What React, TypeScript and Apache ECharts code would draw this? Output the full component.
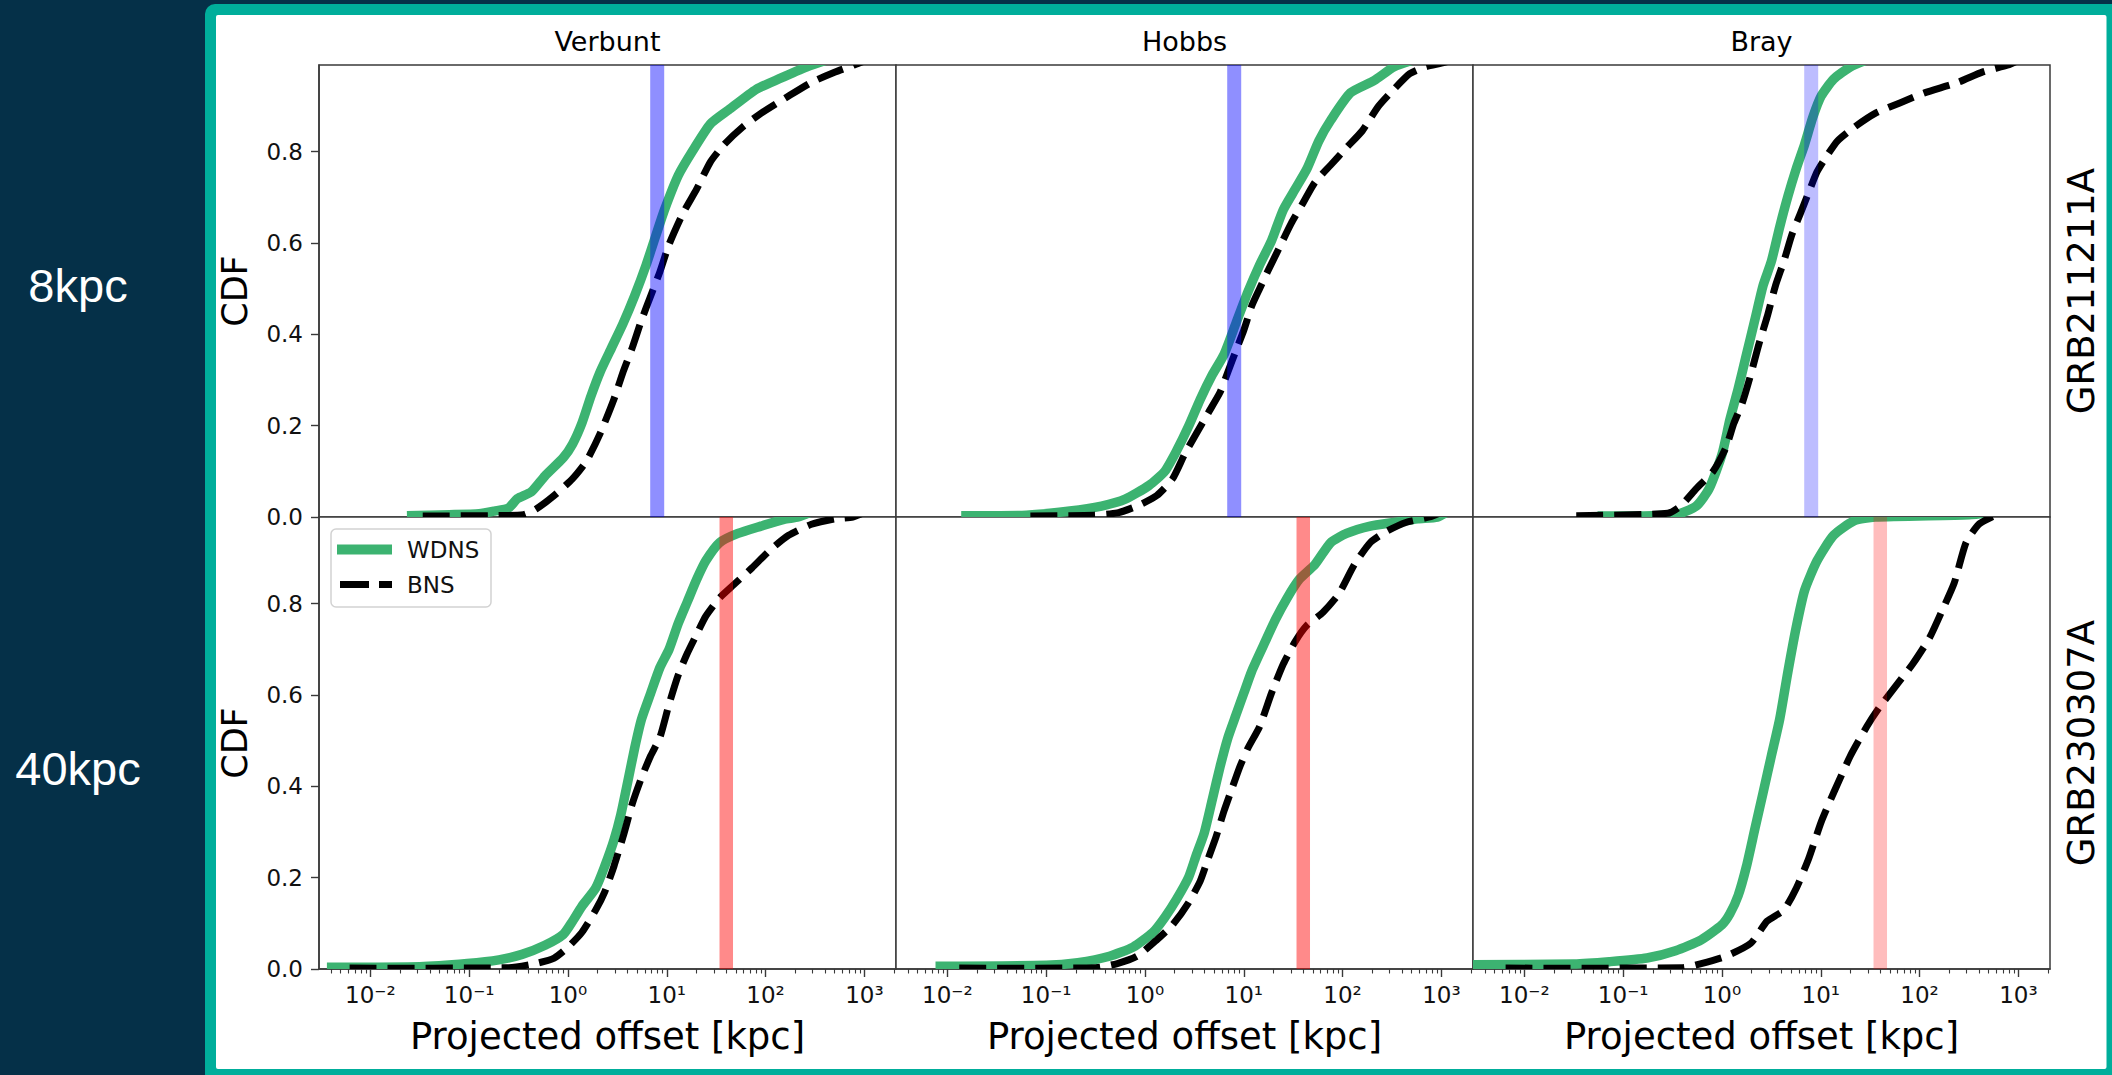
import { useEffect, useRef } from 'react';
import * as echarts from 'echarts';

// ---------- labels ----------
const columnTitles = ['Verbunt', 'Hobbs', 'Bray'];
const rowEvents = ['GRB211211A', 'GRB230307A'];
const rowOffsetLabels = ['8kpc', '40kpc'];
const observedOffsetKpc = [8, 40];
const seriesNames = ['WDNS', 'BNS'];
const xAxisTitle = 'Projected offset [kpc]';
const yAxisTitle = 'CDF';
const xTickExponents = [-2, -1, 0, 1, 2, 3];
const xTickLabels = ['10⁻²', '10⁻¹', '10⁰', '10¹', '10²', '10³'];
const minorTickMultipliers = [2, 3, 4, 5, 6, 7, 8, 9];
const yTickValues = [0, 0.2, 0.4, 0.6, 0.8];
const yTickLabels = ['0.0', '0.2', '0.4', '0.6', '0.8'];

// ---------- CDF curves: [log10(projected offset / kpc), CDF] ----------
const verbunt211211aWdns = [
  [-1.63, 0.003], [-1.2, 0.005], [-0.9, 0.007], [-0.744, 0.013], [-0.6, 0.02], [-0.512, 0.04],
  [-0.372, 0.055], [-0.233, 0.09], [-0.047, 0.13], [0.047, 0.16], [0.14, 0.205], [0.233, 0.265],
  [0.326, 0.318], [0.442, 0.371], [0.558, 0.424], [0.674, 0.484], [0.791, 0.552], [0.884, 0.613],
  [0.977, 0.673], [1.116, 0.748], [1.256, 0.8], [1.442, 0.861], [1.628, 0.892], [1.907, 0.937],
  [2.14, 0.96], [2.419, 0.986], [2.605, 1.0],
];
const verbunt211211aBns = [
  [-1.47, 0.002], [-0.8, 0.003], [-0.45, 0.005], [-0.326, 0.017], [-0.14, 0.047], [0.047, 0.084],
  [0.186, 0.122], [0.326, 0.183], [0.465, 0.258], [0.558, 0.318], [0.651, 0.371], [0.744, 0.431],
  [0.837, 0.484], [0.93, 0.537], [1.023, 0.597], [1.163, 0.665], [1.302, 0.718], [1.442, 0.778],
  [1.581, 0.816], [1.767, 0.854], [1.953, 0.884], [2.233, 0.922], [2.465, 0.952], [2.698, 0.974],
  [2.884, 0.989], [2.977, 0.997], [3.05, 1.0],
];
const hobbs211211aWdns = [
  [-1.86, 0.003], [-1.2, 0.004], [-0.76, 0.013], [-0.44, 0.024], [-0.2, 0.039], [0.04, 0.069],
  [0.2, 0.1], [0.32, 0.145], [0.44, 0.198], [0.56, 0.258], [0.68, 0.311], [0.8, 0.356],
  [0.92, 0.424], [1.04, 0.492], [1.16, 0.552], [1.28, 0.605], [1.4, 0.673], [1.52, 0.718],
  [1.64, 0.763], [1.76, 0.824], [1.88, 0.869], [2.08, 0.929], [2.32, 0.956], [2.52, 0.986], [2.7, 1.0],
];
const hobbs211211aBns = [
  [-1.16, 0.002], [-0.52, 0.004], [-0.28, 0.009], [-0.08, 0.024], [0.12, 0.047], [0.28, 0.084],
  [0.4, 0.137], [0.52, 0.183], [0.64, 0.228], [0.76, 0.273], [0.84, 0.318], [0.92, 0.364],
  [1.0, 0.409], [1.08, 0.462], [1.16, 0.5], [1.24, 0.537], [1.36, 0.59], [1.48, 0.643],
  [1.6, 0.688], [1.72, 0.733], [1.88, 0.771], [2.04, 0.809], [2.2, 0.846], [2.36, 0.899],
  [2.52, 0.937], [2.68, 0.971], [2.84, 0.986], [3.0, 0.994], [3.1, 1.0],
];
const bray211211aWdns = [
  [-1.26, 0.002], [-0.47, 0.005], [-0.26, 0.024], [-0.13, 0.062], [0.0, 0.137], [0.08, 0.213],
  [0.164, 0.281], [0.248, 0.356], [0.332, 0.431], [0.416, 0.507], [0.5, 0.56], [0.584, 0.635],
  [0.668, 0.703], [0.752, 0.763], [0.836, 0.816], [0.92, 0.876], [1.004, 0.922], [1.13, 0.959],
  [1.3, 0.986], [1.45, 1.0],
];
const bray211211aBns = [
  [-1.475, 0.003], [-0.55, 0.008], [-0.42, 0.024], [-0.26, 0.062], [-0.09, 0.1], [0.04, 0.152],
  [0.12, 0.205], [0.206, 0.25], [0.29, 0.311], [0.374, 0.379], [0.458, 0.439], [0.542, 0.507],
  [0.626, 0.56], [0.71, 0.62], [0.794, 0.665], [0.878, 0.711], [0.962, 0.756], [1.046, 0.786],
  [1.17, 0.824], [1.34, 0.854], [1.55, 0.884], [1.8, 0.907], [2.05, 0.929], [2.39, 0.952],
  [2.64, 0.975], [2.895, 0.99], [3.0, 1.0],
];
const verbunt230307aWdns = [
  [-2.44, 0.004], [-1.5, 0.005], [-1.02, 0.012], [-0.7, 0.02], [-0.465, 0.032], [-0.233, 0.052],
  [-0.047, 0.076], [0.047, 0.105], [0.14, 0.137], [0.28, 0.177], [0.372, 0.225], [0.465, 0.282],
  [0.535, 0.338], [0.605, 0.41], [0.674, 0.483], [0.744, 0.547], [0.837, 0.604], [0.93, 0.66],
  [1.023, 0.7], [1.116, 0.757], [1.209, 0.805], [1.302, 0.853], [1.395, 0.894], [1.535, 0.934],
  [1.72, 0.954], [1.953, 0.97], [2.186, 0.985], [2.33, 0.99], [2.45, 1.0],
];
const verbunt230307aBns = [
  [-2.21, 0.002], [-0.6, 0.003], [-0.326, 0.012], [-0.14, 0.024], [0.0, 0.048], [0.14, 0.08],
  [0.28, 0.129], [0.372, 0.169], [0.465, 0.225], [0.558, 0.29], [0.651, 0.362], [0.744, 0.419],
  [0.837, 0.467], [0.93, 0.507], [1.023, 0.58], [1.116, 0.644], [1.209, 0.692], [1.302, 0.733],
  [1.395, 0.773], [1.535, 0.813], [1.674, 0.841], [1.86, 0.878], [2.047, 0.918], [2.233, 0.95],
  [2.465, 0.974], [2.698, 0.986], [2.884, 0.99], [3.0, 1.0],
];
const hobbs230307aWdns = [
  [-2.12, 0.006], [-1.0, 0.008], [-0.68, 0.014], [-0.36, 0.028], [-0.12, 0.048], [0.08, 0.08],
  [0.2, 0.113], [0.32, 0.153], [0.44, 0.2], [0.52, 0.25], [0.6, 0.298], [0.68, 0.37],
  [0.76, 0.443], [0.84, 0.507], [0.92, 0.556], [1.0, 0.604], [1.08, 0.652], [1.2, 0.709],
  [1.32, 0.765], [1.44, 0.813], [1.56, 0.853], [1.72, 0.886], [1.88, 0.934], [2.04, 0.954],
  [2.28, 0.97], [2.52, 0.978], [2.76, 0.986], [2.96, 0.99], [3.05, 1.0],
];
const hobbs230307aBns = [
  [-1.88, 0.002], [-0.5, 0.003], [-0.28, 0.012], [-0.08, 0.028], [0.12, 0.064], [0.28, 0.097],
  [0.44, 0.145], [0.56, 0.193], [0.64, 0.242], [0.72, 0.29], [0.8, 0.346], [0.88, 0.395],
  [0.96, 0.443], [1.04, 0.483], [1.16, 0.531], [1.28, 0.604], [1.4, 0.668], [1.52, 0.717],
  [1.64, 0.753], [1.8, 0.781], [1.96, 0.821], [2.12, 0.886], [2.28, 0.934], [2.44, 0.958],
  [2.64, 0.978], [2.88, 0.99], [3.0, 1.0],
];
const bray230307aWdns = [
  [-2.6, 0.009], [-1.5, 0.011], [-1.14, 0.016], [-0.76, 0.024], [-0.47, 0.04], [-0.21, 0.064],
  [0.0, 0.097], [0.08, 0.121], [0.164, 0.161], [0.248, 0.225], [0.332, 0.306], [0.416, 0.386],
  [0.5, 0.467], [0.584, 0.547], [0.668, 0.652], [0.752, 0.749], [0.836, 0.829], [0.962, 0.894],
  [1.13, 0.95], [1.34, 0.982], [1.55, 0.99], [2.5, 0.995], [2.7, 1.0],
];
const bray230307aBns = [
  [-2.19, 0.002], [-0.4, 0.003], [-0.21, 0.012], [0.04, 0.028], [0.29, 0.056], [0.458, 0.105],
  [0.626, 0.129], [0.752, 0.177], [0.878, 0.242], [1.004, 0.322], [1.13, 0.386], [1.3, 0.467],
  [1.466, 0.531], [1.59, 0.572], [1.76, 0.62], [1.93, 0.668], [2.1, 0.725], [2.22, 0.781],
  [2.35, 0.845], [2.47, 0.934], [2.6, 0.974], [2.73, 0.99], [2.85, 1.0],
];

const panelCurves = [
  [verbunt211211aWdns, verbunt211211aBns],
  [hobbs211211aWdns, hobbs211211aBns],
  [bray211211aWdns, bray211211aBns],
  [verbunt230307aWdns, verbunt230307aBns],
  [hobbs230307aWdns, hobbs230307aBns],
  [bray230307aWdns, bray230307aBns],
];

// ---------- layout / style ----------
const W = 2112;
const H = 1075;
const COL_LEFT = [319, 896, 1473];
const COL_W = 577;
const ROW_TOP = [65, 517];
const ROW_H = 452;
const X_MIN = -2.52;
const X_MAX = 3.32;
const Y_MAX = 0.99;
const FONT = "'DejaVu Sans', sans-serif";
const AXIS_COLOR = '#3a3a3a';
const GREEN = '#3cb371';
const BAND_COLORS = [
  ['rgba(0,0,255,0.44)', 'rgba(0,0,255,0.44)', 'rgba(0,0,255,0.26)'],
  ['rgba(255,0,0,0.46)', 'rgba(255,0,0,0.46)', 'rgba(255,0,0,0.26)'],
];

function curveSeries(name: string, g: number, data: number[][], stroke: string, lineWidth: number, dash: number[] | null, z: number) {
  return {
    name, type: 'custom', xAxisIndex: g, yAxisIndex: g, data, clip: true, silent: true, z,
    renderItem: (params: any, api: any) => {
      if (params.dataIndex !== 0) return null;
      const pts = data.map((p) => api.coord(p));
      return {
        type: 'polyline',
        shape: { points: pts, smooth: 0.2 },
        style: { fill: 'none', stroke, lineWidth, lineDash: dash || undefined, lineCap: 'butt', lineJoin: 'round' },
        silent: true,
      };
    },
  };
}

function buildOption() {
  const grid: any[] = [];
  const xAxis: any[] = [];
  const yAxis: any[] = [];
  const series: any[] = [];

  const minorTicks: number[] = [];
  for (let e = -3; e <= 3; e++) {
    minorTickMultipliers.forEach((m) => minorTicks.push(Math.log10(m) + e));
  }

  for (let r = 0; r < 2; r++) {
    for (let c = 0; c < 3; c++) {
      const g = r * 3 + c;
      grid.push({
        left: COL_LEFT[c], top: ROW_TOP[r], width: COL_W, height: ROW_H,
        show: true, backgroundColor: '#ffffff', borderColor: AXIS_COLOR, borderWidth: 1.5,
        containLabel: false,
      });
      xAxis.push({
        type: 'value', gridIndex: g, min: X_MIN, max: X_MAX, position: 'bottom',
        show: r === 1,
        axisLine: { show: true, onZero: false, lineStyle: { color: AXIS_COLOR, width: 1.5 } },
        axisTick: { show: true, length: 8, customValues: xTickExponents, lineStyle: { color: AXIS_COLOR, width: 1.4 } },
        axisLabel: {
          show: true, customValues: xTickExponents, margin: 14, fontSize: 23, color: '#111', fontFamily: FONT,
          formatter: (v: number) => xTickLabels[xTickExponents.indexOf(Math.round(v))] ?? '',
        },
        splitLine: { show: false },
      });
      yAxis.push({
        type: 'value', gridIndex: g, min: 0, max: Y_MAX, position: 'left',
        show: c === 0,
        axisLine: { show: true, onZero: false, lineStyle: { color: AXIS_COLOR, width: 1.5 } },
        axisTick: { show: true, length: 8, customValues: yTickValues, lineStyle: { color: AXIS_COLOR, width: 1.4 } },
        axisLabel: {
          show: true, customValues: yTickValues, margin: 16, fontSize: 23, color: '#111', fontFamily: FONT,
          formatter: (v: number) => yTickLabels[yTickValues.findIndex((t) => Math.abs(t - v) < 1e-6)] ?? '',
        },
        splitLine: { show: false },
      });

      const [wdns, bns] = panelCurves[g];
      series.push(curveSeries(seriesNames[0], g, wdns, GREEN, 9.5, null, 2));
      series.push(curveSeries(seriesNames[1], g, bns, '#000000', 7, [27, 11], 3));
      const bx = Math.log10(observedOffsetKpc[r]);
      series.push({
        name: 'observed ' + rowOffsetLabels[r], type: 'line', xAxisIndex: g, yAxisIndex: g,
        data: [[bx, 0], [bx, Y_MAX]],
        symbol: 'none', showSymbol: false, clip: true, silent: true, z: 4,
        lineStyle: { color: BAND_COLORS[r][c], width: r === 0 ? 14 : 13.5, cap: 'butt' },
      });
    }
  }

  // minor ticks on bottom row
  for (let c = 0; c < 3; c++) {
    xAxis.push({
      type: 'value', gridIndex: 3 + c, min: X_MIN, max: X_MAX, position: 'bottom',
      axisLine: { show: false, onZero: false },
      axisTick: { show: true, length: 4.5, customValues: minorTicks, lineStyle: { color: AXIS_COLOR, width: 1.1 } },
      axisLabel: { show: false },
      splitLine: { show: false },
    });
  }

  const graphics: any[] = [
    { type: 'rect', z: -10, shape: { x: 205, y: 4, width: 1940, height: 1100, r: 10 }, style: { fill: '#00ae9b' } },
    { type: 'rect', z: -9, shape: { x: 216, y: 15, width: 1890.5, height: 1054, r: 2 }, style: { fill: '#ffffff' } },
  ];

  const rowLabelY = [285, 768];
  rowOffsetLabels.forEach((t, i) => {
    graphics.push({
      type: 'text', z: 20, x: 78, y: rowLabelY[i],
      style: { text: t, fill: '#ffffff', fontSize: 47, fontFamily: "'Liberation Sans', Arial, sans-serif", align: 'center', verticalAlign: 'middle' },
    });
  });

  columnTitles.forEach((t, c) => {
    graphics.push({
      type: 'text', z: 20, x: COL_LEFT[c] + COL_W / 2, y: 41,
      style: { text: t, fill: '#000', fontSize: 27, fontFamily: FONT, align: 'center', verticalAlign: 'middle' },
    });
    graphics.push({
      type: 'text', z: 20, x: COL_LEFT[c] + COL_W / 2, y: 1036,
      style: { text: xAxisTitle, fill: '#000', fontSize: 37, fontFamily: FONT, align: 'center', verticalAlign: 'middle' },
    });
  });

  rowEvents.forEach((t, r) => {
    const cy = ROW_TOP[r] + ROW_H / 2;
    graphics.push({
      type: 'text', z: 20, x: 234.5, y: cy, rotation: Math.PI / 2,
      style: { text: yAxisTitle, fill: '#000', fontSize: 35, fontFamily: FONT, align: 'center', verticalAlign: 'middle' },
    });
    graphics.push({
      type: 'text', z: 20, x: 2081.5, y: cy, rotation: Math.PI / 2,
      style: { text: t, fill: '#000', fontSize: 37, fontFamily: FONT, align: 'center', verticalAlign: 'middle' },
    });
  });

  graphics.push(
    { type: 'rect', z: 50, shape: { x: 331, y: 529, width: 160, height: 78, r: 5 }, style: { fill: 'rgba(255,255,255,0.8)', stroke: '#d2d2d2', lineWidth: 1.5 } },
    { type: 'line', z: 51, shape: { x1: 337, y1: 549.5, x2: 392, y2: 549.5 }, style: { stroke: GREEN, lineWidth: 10 } },
    { type: 'line', z: 51, shape: { x1: 340, y1: 584.5, x2: 392, y2: 584.5 }, style: { stroke: '#000', lineWidth: 7, lineDash: [29, 10] } },
    { type: 'text', z: 51, x: 407, y: 549.5, style: { text: seriesNames[0], fill: '#111', fontSize: 23, fontFamily: FONT, align: 'left', verticalAlign: 'middle' } },
    { type: 'text', z: 51, x: 407, y: 584.5, style: { text: seriesNames[1], fill: '#111', fontSize: 23, fontFamily: FONT, align: 'left', verticalAlign: 'middle' } },
  );

  return {
    animation: false,
    backgroundColor: '#053048',
    textStyle: { fontFamily: FONT },
    grid, xAxis, yAxis, series,
    graphic: { elements: graphics },
  };
}

export default function App() {
  const ref = useRef<HTMLDivElement>(null);
  useEffect(() => {
    if (!ref.current) return;
    const chart = echarts.init(ref.current, undefined, { renderer: 'svg', width: W, height: H });
    chart.setOption(buildOption() as any);
    return () => chart.dispose();
  }, []);
  return <div ref={ref} style={{ position: 'fixed', left: 0, top: 0, width: W, height: H }} />;
}
